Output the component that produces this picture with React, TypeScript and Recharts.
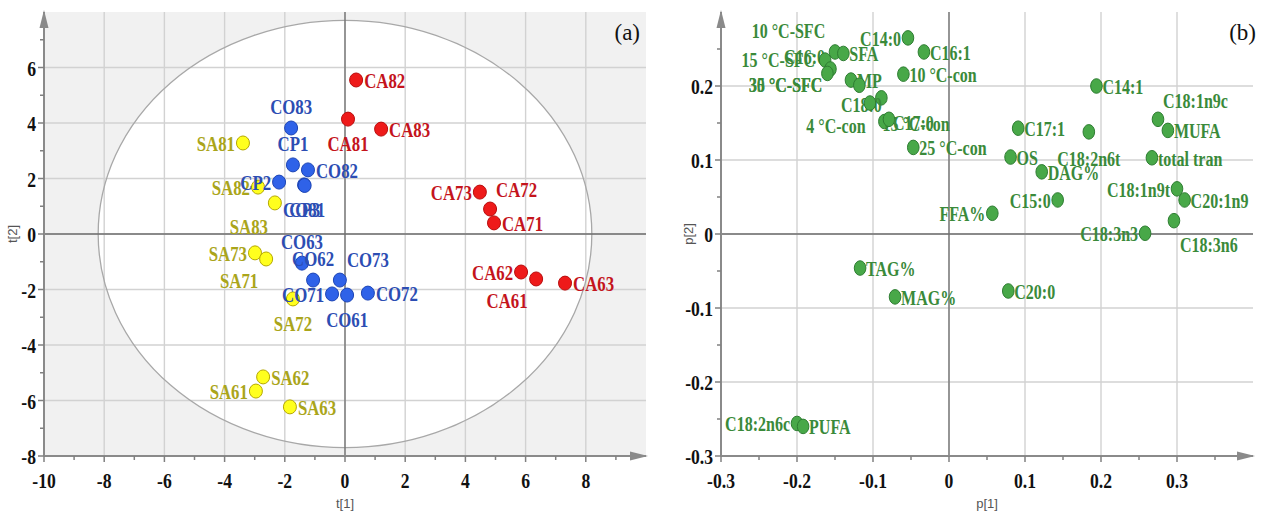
import React from 'react';
import { ScatterChart, Scatter, XAxis, YAxis, CartesianGrid, ReferenceLine, ReferenceArea } from 'recharts';

const SERIF = "'Liberation Serif', 'Times New Roman', Times, serif";
const SANS = "'Liberation Sans', Arial, sans-serif";

// ---------- (a) scores t[1] / t[2] ----------
const caNames = ['CA82', 'CA81', 'CA83', 'CA73', 'CA72', 'CA71', 'CA62', 'CA61', 'CA63'];
const caT1 = [0.37, 0.1, 1.2, 4.48, 4.82, 4.95, 5.85, 6.35, 7.31];
const caT2 = [5.55, 4.14, 3.78, 1.51, 0.9, 0.4, -1.37, -1.62, -1.77];

const coNames = ['CO83', 'CP1', 'CO82', 'CP2', 'CO81', 'CP3', 'CO63', 'CO62', 'CO73', 'CO71', 'CO61', 'CO72'];
const coT1 = [-1.79, -1.73, -1.23, -2.19, -1.36, -1.34, -1.43, -1.06, -0.17, -0.43, 0.07, 0.76];
const coT2 = [3.82, 2.49, 2.31, 1.87, 1.77, 1.75, -1.05, -1.66, -1.66, -2.16, -2.2, -2.13];

const saNames = ['SA81', 'SA82', 'SA83', 'SA73', 'SA71', 'SA72', 'SA62', 'SA61', 'SA63'];
const saT1 = [-3.39, -2.89, -2.33, -2.99, -2.62, -1.73, -2.72, -2.96, -1.83];
const saT2 = [3.28, 1.69, 1.12, -0.68, -0.9, -2.34, -5.15, -5.66, -6.23];

// Domains of panel (a) and Hotelling T2 ellipse semi-axes
const LEFT_X_DOMAIN: [number, number] = [-10, 10];
const LEFT_Y_DOMAIN: [number, number] = [-8, 8];
const ELL_RX = 8.2;
const ELL_RY = 7.7;

// ---------- (b) loadings p[1] / p[2] ----------
const varNames = [
  'C16:0', 'SFA', '15 °C-SFC', '10 °C-SFC', '35 °C-SFC', 'MP', '30 °C-SFC', 'C14:0', 'C16:1', '10 °C-con',
  'C18:0', '4 °C-con', '15 °C-con', 'C17:0', '25 °C-con', 'C14:1', 'C18:1n9c', 'MUFA', 'C17:1', 'C18:2n6t',
  'OS', 'DAG%', 'total tran', 'C18:1n9t', 'C20:1n9', 'C15:0', 'FFA%', 'C18:3n3', 'C18:3n6', 'TAG%',
  'MAG%', 'C20:0', 'C18:2n6c', 'PUFA',
];
const varP1 = [
  -0.15, -0.139, -0.163, -0.156, -0.16, -0.129, -0.118, -0.054, -0.033, -0.06,
  -0.089, -0.104, -0.085, -0.079, -0.047, 0.194, 0.275, 0.288, 0.091, 0.184,
  0.081, 0.122, 0.267, 0.3, 0.31, 0.143, 0.057, 0.258, 0.296, -0.117,
  -0.071, 0.078, -0.2, -0.192,
];
const varP2 = [
  0.246, 0.244, 0.235, 0.223, 0.217, 0.208, 0.201, 0.265, 0.246, 0.216,
  0.184, 0.177, 0.152, 0.155, 0.117, 0.2, 0.155, 0.14, 0.143, 0.138,
  0.104, 0.084, 0.103, 0.061, 0.046, 0.046, 0.028, 0.001, 0.018, -0.046,
  -0.085, -0.077, -0.256, -0.26,
];

// ---------- ticks ----------
const leftXMajor = [-10, -8, -6, -4, -2, 0, 2, 4, 6, 8];
const leftXMinor = [-9, -7, -5, -3, -1, 1, 3, 5, 7, 9];
const leftYMajor = [-8, -6, -4, -2, 0, 2, 4, 6];
const leftYMinor = [-7, -5, -3, -1, 1, 3, 5, 7];
const rightXMajor = [-0.3, -0.2, -0.1, 0, 0.1, 0.2, 0.3];
const rightXMinor = [-0.25, -0.15, -0.05, 0.05, 0.15, 0.25, 0.35];
const rightYMajor = [-0.3, -0.2, -0.1, 0, 0.1, 0.2];
const rightYMinor = [-0.25, -0.15, -0.05, 0.05, 0.15, 0.25];

const merge = (a: number[], b: number[]) => [...a, ...b].sort((p, q) => p - q);
const build = (names: string[], xs: number[], ys: number[]) => names.map((name, i) => ({ name, x: xs[i], y: ys[i] }));

const caData = build(caNames, caT1, caT2);
const coData = build(coNames, coT1, coT2);
const saData = build(saNames, saT1, saT2);
const varData = build(varNames, varP1, varP2);

// ---------- label placement styles ----------
type Place = [string, number, number];
const LR: Place = ['start', 8, 8];
const LL: Place = ['end', -8, 8];
const LT: Place = ['middle', 0, -14];
const LB: Place = ['middle', 0, 32];
const leftPlace: Record<string, Place> = {
  CA82: LR, CA81: LB, CA83: LR, CA73: LL, CA72: ['start', 6, -12], CA71: LR, CA62: LL, CA61: ['middle', -29, 29], CA63: LR,
  CO83: LT, CP1: LT, CO82: LR, CP2: LL, CO81: LB, CP3: LB, CO63: LT, CO62: LT, CO73: ['middle', 28, -13], CO71: LL, CO61: LB, CO72: LR,
  SA81: LL, SA82: LL, SA83: ['middle', -26, 31], SA73: LL, SA71: ['middle', -27, 29], SA72: LB, SA62: LR, SA61: LL, SA63: LR,
};
const RR: Place = ['start', 6, 8];
const RL: Place = ['end', -7, 8];
const rightPlace: Record<string, Place> = {
  'C16:0': ['end', -10, 12], '15 °C-SFC': ['end', -10, 7], '10 °C-SFC': ['middle', -42, -31], '35 °C-SFC': ['end', -5, 19],
  '30 °C-SFC': ['end', -37, 7], 'C18:0': ['middle', -20, 14], '4 °C-con': ['middle', -34, 30], '15 °C-con': ['start', -2, 9],
  'C17:0': ['start', 4, 11], 'C18:1n9c': ['start', 5, -11], 'C18:2n6t': ['middle', 0, 34], 'C18:3n6': ['start', 6, 31],
  'C14:0': RL, 'C18:1n9t': RL, 'C15:0': RL, 'FFA%': RL, 'C18:3n3': RL, 'C18:2n6c': RL,
};

const makeShape = (fill: string, stroke: string, color: string, place: Record<string, Place>, def: Place, rx: number, ry: number, fs: number) =>
  (props: any) => {
    const { cx, cy, payload } = props;
    const [anchor, dx, dy] = place[payload.name] ?? def;
    return (
      <g>
        <ellipse cx={cx} cy={cy} rx={rx} ry={ry} fill={fill} stroke={stroke} strokeWidth={1} />
        <text
          transform={`translate(${cx + dx},${cy + dy}) scale(0.8,1)`}
          textAnchor={anchor as any}
          fontFamily={SERIF}
          fontWeight="bold"
          fontSize={fs}
          fill={color}
        >
          {payload.name}
        </text>
      </g>
    );
  };

const AxisTick = (props: any) => {
  const { x, y, payload, side, major, fmt } = props;
  const v = payload.value;
  const isMajor = major.some((m: number) => Math.abs(m - v) < 1e-9);
  const len = isMajor ? 6 : 4;
  if (side === 'x') {
    return (
      <g>
        <line x1={x} y1={y} x2={x} y2={y + len} stroke="#808080" strokeWidth={1.5} />
        {isMajor && (
          <text transform={`translate(${x},${y + 32}) scale(0.8,1)`} textAnchor="middle" fontFamily={SERIF} fontWeight="bold" fontSize={22} fill="#111">
            {fmt(v)}
          </text>
        )}
      </g>
    );
  }
  return (
    <g>
      <line x1={x} y1={y} x2={x - len} y2={y} stroke="#808080" strokeWidth={1.5} />
      {isMajor && (
        <text transform={`translate(${x - 8},${y + 8}) scale(0.8,1)`} textAnchor="end" fontFamily={SERIF} fontWeight="bold" fontSize={22} fill="#111">
          {fmt(v)}
        </text>
      )}
    </g>
  );
};

const fmtInt = (v: number) => String(v);
const fmtDec = (v: number) => (Math.abs(v) < 1e-9 ? '0' : v.toFixed(1));

const xTitle = (text: string) => (props: any) => {
  const vb = props.viewBox;
  return (
    <text x={vb.x + vb.width / 2} y={vb.y + 52} textAnchor="middle" fontFamily={SANS} fontSize={13} fill="#555">
      {text}
    </text>
  );
};
const yTitle = (text: string, off: number) => (props: any) => {
  const vb = props.viewBox;
  const cx = vb.x + off;
  const cy = vb.y + vb.height / 2;
  return (
    <text x={cx} y={cy} transform={`rotate(-90,${cx},${cy})`} textAnchor="middle" fontFamily={SANS} fontSize={13} fill="#555">
      {text}
    </text>
  );
};

const GRID = '#d2d2d2';
const GRID_W = 1.4;

// Background of panel (a): full-domain reference area holding the grid,
// the shaded region outside the T2 ellipse and the ellipse outline.
// The ellipse is centred on (0,0) = centre of the symmetric domain.
const scoreBackground = (p: any) => {
  const x = Math.min(p.x, p.x + p.width);
  const y = Math.min(p.y, p.y + p.height);
  const w = Math.abs(p.width);
  const h = Math.abs(p.height);
  const [x0, x1] = LEFT_X_DOMAIN;
  const [y0, y1] = LEFT_Y_DOMAIN;
  const sx = (v: number) => x + ((v - x0) / (x1 - x0)) * w;
  const sy = (v: number) => y + h - ((v - y0) / (y1 - y0)) * h;
  const cx = sx(0);
  const cy = sy(0);
  const rx = sx(ELL_RX) - cx;
  const ry = cy - sy(ELL_RY);
  const d = `M${x},${y} h${w} v${h} h${-w} Z M${cx - rx},${cy} a${rx},${ry} 0 1,0 ${2 * rx},0 a${rx},${ry} 0 1,0 ${-2 * rx},0 Z`;
  return (
    <g>
      <path d={d} fill="#000000" fillOpacity={0.055} fillRule="evenodd" stroke="none" />
      {leftXMajor.filter((v) => v !== x0).map((v) => (
        <line key={`vx${v}`} x1={sx(v)} x2={sx(v)} y1={y} y2={y + h} stroke={GRID} strokeWidth={GRID_W} />
      ))}
      {leftYMajor.filter((v) => v !== y0).map((v) => (
        <line key={`hy${v}`} x1={x} x2={x + w} y1={sy(v)} y2={sy(v)} stroke={GRID} strokeWidth={GRID_W} />
      ))}
      <ellipse cx={cx} cy={cy} rx={rx} ry={ry} fill="none" stroke="#a8a8a8" strokeWidth={1.3} />
    </g>
  );
};

const axisLineY = { stroke: '#8a8a8a', strokeWidth: 2, markerStart: 'url(#arrowHead)' } as any;
const axisLineX = { stroke: '#8a8a8a', strokeWidth: 2, markerEnd: 'url(#arrowHead)' } as any;

export default function App() {
  return (
    <div style={{ position: 'absolute', left: 0, top: 0, width: 1263, height: 512, background: '#fff' }}>
      <svg width={0} height={0} style={{ position: 'absolute' }}>
        <defs>
          <marker id="arrowHead" markerWidth={18} markerHeight={10} refX={16} refY={5} orient="auto-start-reverse" markerUnits="userSpaceOnUse">
            <path d="M0,0.5 L18,5 L0,9.5 z" fill="#8a8a8a" />
          </marker>
        </defs>
      </svg>

      <div style={{ position: 'absolute', left: 0, top: 0 }}>
        <ScatterChart width={650} height={512} margin={{ top: 12, right: 4, bottom: 0, left: 0 }}>
          <XAxis
            type="number"
            dataKey="x"
            domain={LEFT_X_DOMAIN}
            ticks={merge(leftXMajor, leftXMinor)}
            interval={0}
            tickLine={false}
            tickSize={0}
            tickMargin={0}
            height={56}
            axisLine={axisLineX}
            tick={<AxisTick side="x" major={leftXMajor} fmt={fmtInt} />}
            label={xTitle('t[1]')}
            allowDataOverflow
          />
          <YAxis
            type="number"
            dataKey="y"
            domain={LEFT_Y_DOMAIN}
            ticks={merge(leftYMajor, leftYMinor)}
            interval={0}
            tickLine={false}
            tickSize={0}
            tickMargin={0}
            width={44}
            axisLine={axisLineY}
            tick={<AxisTick side="y" major={leftYMajor} fmt={fmtInt} />}
            label={yTitle('t[2]', 17)}
            allowDataOverflow
          />
          <ReferenceArea
            x1={LEFT_X_DOMAIN[0]}
            x2={LEFT_X_DOMAIN[1]}
            y1={LEFT_Y_DOMAIN[0]}
            y2={LEFT_Y_DOMAIN[1]}
            shape={scoreBackground}
          />
          <ReferenceLine x={0} stroke="#6e6e6e" strokeWidth={1.3} />
          <ReferenceLine y={0} stroke="#6e6e6e" strokeWidth={1.3} />
          <Scatter data={saData} isAnimationActive={false} shape={makeShape('#ffff1e', '#b5a800', '#aaa51a', leftPlace, LR, 6.5, 7, 21)} />
          <Scatter data={coData} isAnimationActive={false} shape={makeShape('#2f62e8', '#1d45b5', '#2c4db3', leftPlace, LR, 6.5, 7, 21)} />
          <Scatter data={caData} isAnimationActive={false} shape={makeShape('#ee1a1a', '#b80d0d', '#c4141c', leftPlace, LR, 6.5, 7, 21)} />
        </ScatterChart>
      </div>

      <div style={{ position: 'absolute', left: 650, top: 0 }}>
        <ScatterChart width={613} height={512} margin={{ top: 12, right: 10, bottom: 0, left: 0 }}>
          <XAxis
            type="number"
            dataKey="x"
            domain={[-0.3, 0.4]}
            ticks={merge(rightXMajor, rightXMinor)}
            interval={0}
            tickLine={false}
            tickSize={0}
            tickMargin={0}
            height={56}
            axisLine={axisLineX}
            tick={<AxisTick side="x" major={rightXMajor} fmt={fmtDec} />}
            label={xTitle('p[1]')}
            allowDataOverflow
          />
          <YAxis
            type="number"
            dataKey="y"
            domain={[-0.3, 0.3]}
            ticks={merge(rightYMajor, rightYMinor)}
            interval={0}
            tickLine={false}
            tickSize={0}
            tickMargin={0}
            width={71}
            axisLine={axisLineY}
            tick={<AxisTick side="y" major={rightYMajor} fmt={fmtDec} />}
            label={yTitle('p[2]', 43)}
            allowDataOverflow
          />
          <CartesianGrid stroke={GRID} strokeWidth={GRID_W} verticalValues={rightXMajor} horizontalValues={rightYMajor} />
          <ReferenceLine x={0} stroke="#6e6e6e" strokeWidth={1.3} />
          <ReferenceLine y={0} stroke="#6e6e6e" strokeWidth={1.3} />
          <Scatter data={varData} isAnimationActive={false} shape={makeShape('#48a848', '#2e7d32', '#3a8a3a', rightPlace, RR, 5.8, 7.3, 20)} />
        </ScatterChart>
      </div>

      <svg width={1263} height={512} style={{ position: 'absolute', left: 0, top: 0, pointerEvents: 'none' }}>
        <text x={640} y={40} textAnchor="end" fontFamily={SERIF} fontSize={23} fill="#111">(a)</text>
        <text x={1256} y={40} textAnchor="end" fontFamily={SERIF} fontSize={23} fill="#111">(b)</text>
      </svg>
    </div>
  );
}
